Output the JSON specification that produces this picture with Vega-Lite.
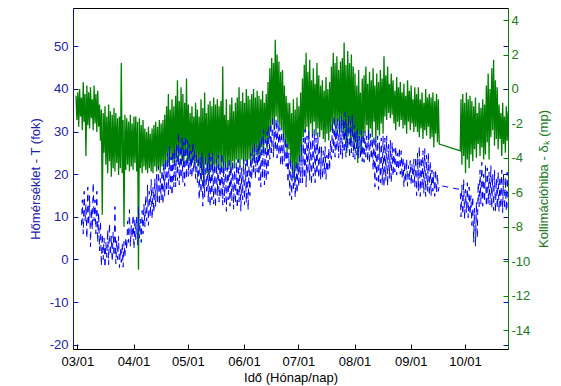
{
"$schema":"https://vega.github.io/schema/vega-lite/v6.json",
"width":435,"height":341,"autosize":"none",
"padding":{"left":73,"top":8,"right":53,"bottom":37},
"background":"white",
"config":{"view":{"stroke":"black","strokeWidth":1},"font":"Liberation Sans",
"axis":{"labelFont":"Liberation Sans","titleFont":"Liberation Sans","labelFontSize":13,"titleFontSize":13,"titleFontWeight":"normal","grid":false,"tickSize":-5,"labelPadding":10,"labelFlush":false,"labelOverlap":false,"domainWidth":1,"tickWidth":1}},
"data":{"values":[
{"d":59.25,"k":-0.4,"T":null},{"d":59.75,"k":-1.8,"T":null},
{"d":60.25,"k":-0.2,"T":null},{"d":60.75,"k":-2.2,"T":null},
{"d":61.25,"k":0.0,"T":null},{"d":61.75,"k":-1.6,"T":null},
{"d":62.25,"k":-0.5,"T":8},{"d":62.75,"k":-2.4,"T":14},
{"d":63.25,"k":0.4,"T":6},{"d":63.75,"k":-1.9,"T":16},
{"d":64.25,"k":-0.3,"T":9},{"d":64.75,"k":-3.9,"T":13},
{"d":65.25,"k":0.2,"T":5},{"d":65.75,"k":-2.1,"T":17},
{"d":66.25,"k":-0.2,"T":8},{"d":66.75,"k":-2.3,"T":15},
{"d":67.25,"k":0.1,"T":3},{"d":67.75,"k":-1.7,"T":12},
{"d":68.25,"k":-0.6,"T":7},{"d":68.75,"k":-2.4,"T":18},
{"d":69.25,"k":0.2,"T":9},{"d":69.75,"k":-2.0,"T":14},
{"d":70.25,"k":-0.3,"T":6},{"d":70.75,"k":-2.5,"T":16},
{"d":71.25,"k":-0.1,"T":4},{"d":71.75,"k":-2.2,"T":11},
{"d":72.25,"k":-0.9,"T":2},{"d":72.75,"k":-3.0,"T":9},
{"d":73.25,"k":-1.2,"T":-1.5},{"d":73.75,"k":-7.3,"T":6},
{"d":74.25,"k":-1.4,"T":0},{"d":74.75,"k":-3.7,"T":5},
{"d":75.25,"k":-1.0,"T":-1.9},{"d":75.75,"k":-4.4,"T":4},
{"d":76.25,"k":-1.6,"T":0.5},{"d":76.75,"k":-4.9,"T":7},
{"d":77.25,"k":-0.9,"T":-1.2},{"d":77.75,"k":-4.2,"T":8.5},
{"d":78.25,"k":-1.3,"T":1},{"d":78.75,"k":-5.1,"T":5.5},
{"d":79.25,"k":-1.5,"T":-0.5},{"d":79.75,"k":-4.6,"T":6.5},
{"d":80.25,"k":-1.1,"T":0.8},{"d":80.75,"k":-4.8,"T":12.4},
{"d":81.25,"k":-1.4,"T":-1},{"d":81.75,"k":-4.3,"T":4.5},
{"d":82.25,"k":-1.7,"T":0},{"d":82.75,"k":-5.0,"T":5.4},
{"d":83.25,"k":-1.6,"T":-1.9},{"d":83.75,"k":-4.6,"T":2.5},
{"d":84.25,"k":1.5,"T":-0.7},{"d":84.75,"k":-4.9,"T":3.8},
{"d":85.25,"k":-1.8,"T":-1.8},{"d":85.75,"k":-8.0,"T":4.2},
{"d":86.25,"k":-1.5,"T":0.5},{"d":86.75,"k":-4.7,"T":5},
{"d":87.25,"k":-1.7,"T":2.3},{"d":87.75,"k":-4.4,"T":9},
{"d":88.25,"k":-1.9,"T":4},{"d":88.75,"k":-4.8,"T":11.7},
{"d":89.25,"k":-1.5,"T":3},{"d":89.75,"k":-4.5,"T":8},
{"d":90.25,"k":-2.0,"T":5},{"d":90.75,"k":-4.7,"T":10.5},
{"d":91.25,"k":-1.6,"T":2.5},{"d":91.75,"k":-4.3,"T":9.5},
{"d":92.25,"k":-1.6,"T":4.7},{"d":92.75,"k":-4.8,"T":10},
{"d":93.25,"k":-1.9,"T":3.5},{"d":93.75,"k":-10.5,"T":12.4},
{"d":94.25,"k":-1.7,"T":5},{"d":94.75,"k":-4.6,"T":9.5},
{"d":95.25,"k":-2.1,"T":4},{"d":95.75,"k":-4.9,"T":11.5},
{"d":96.25,"k":-1.8,"T":6},{"d":96.75,"k":-4.5,"T":13},
{"d":97.25,"k":-2.3,"T":7.7},{"d":97.75,"k":-4.7,"T":15},
{"d":98.25,"k":-2.5,"T":9},{"d":98.75,"k":-4.9,"T":17.5},
{"d":99.25,"k":-2.2,"T":8},{"d":99.75,"k":-4.6,"T":16},
{"d":100.25,"k":-2.6,"T":10},{"d":100.75,"k":-4.8,"T":18.8},
{"d":101.25,"k":-2.3,"T":9.5},{"d":101.75,"k":-4.9,"T":17},
{"d":102.25,"k":-2.1,"T":11},{"d":102.75,"k":-4.5,"T":19},
{"d":103.25,"k":-1.9,"T":12.4},{"d":103.75,"k":-4.8,"T":20},
{"d":104.25,"k":-2.2,"T":13.5},{"d":104.75,"k":-4.6,"T":21.8},
{"d":105.25,"k":-1.8,"T":12.8},{"d":105.75,"k":-4.9,"T":19},
{"d":106.25,"k":-2.0,"T":14},{"d":106.75,"k":-4.5,"T":21},
{"d":107.25,"k":-1.8,"T":13},{"d":107.75,"k":-4.7,"T":22.5},
{"d":108.25,"k":-1.5,"T":14.8},{"d":108.75,"k":-4.4,"T":23.5},
{"d":109.25,"k":-1.0,"T":16},{"d":109.75,"k":-4.2,"T":25},
{"d":110.25,"k":-0.3,"T":15.2},{"d":110.75,"k":-4.5,"T":26.5},
{"d":111.25,"k":-1.2,"T":16.5},{"d":111.75,"k":-4.1,"T":24},
{"d":112.25,"k":-0.6,"T":15},{"d":112.75,"k":-4.3,"T":25.5},
{"d":113.25,"k":-1.0,"T":17},{"d":113.75,"k":-4.4,"T":26},
{"d":114.25,"k":-0.4,"T":17},{"d":114.75,"k":-4.0,"T":27},
{"d":115.25,"k":0.5,"T":18.5},{"d":115.75,"k":-4.4,"T":29.8},
{"d":116.25,"k":-0.7,"T":17.5},{"d":116.75,"k":-3.8,"T":26.5},
{"d":117.25,"k":0.1,"T":19},{"d":117.75,"k":-4.2,"T":28.5},
{"d":118.25,"k":-0.3,"T":18},{"d":118.75,"k":-4.5,"T":27.5},
{"d":119.25,"k":-0.8,"T":17.2},{"d":119.75,"k":-3.9,"T":29},
{"d":120.25,"k":0.6,"T":19},{"d":120.75,"k":-4.3,"T":28},
{"d":121.25,"k":-0.9,"T":19.5},{"d":121.75,"k":-4.2,"T":27},
{"d":122.25,"k":-1.4,"T":20},{"d":122.75,"k":-4.5,"T":25.5},
{"d":123.25,"k":-1.0,"T":19.2},{"d":123.75,"k":-4.1,"T":27.5},
{"d":124.25,"k":-1.6,"T":20.5},{"d":124.75,"k":-4.4,"T":26},
{"d":125.25,"k":-0.8,"T":19},{"d":125.75,"k":-4.3,"T":25},
{"d":126.25,"k":-1.2,"T":18},{"d":126.75,"k":-4.5,"T":24},
{"d":127.25,"k":-1.6,"T":14},{"d":127.75,"k":-4.6,"T":24},
{"d":128.25,"k":-0.6,"T":15.5},{"d":128.75,"k":-5.0,"T":25},
{"d":129.25,"k":-1.1,"T":12.5},{"d":129.75,"k":-5.7,"T":22},
{"d":130.25,"k":-0.2,"T":14.5},{"d":130.75,"k":-4.4,"T":24.5},
{"d":131.25,"k":-1.4,"T":16},{"d":131.75,"k":-4.9,"T":23},
{"d":132.25,"k":-0.9,"T":13.5},{"d":132.75,"k":-5.3,"T":25},
{"d":133.25,"k":-0.7,"T":12.4},{"d":133.75,"k":-4.5,"T":24},
{"d":134.25,"k":-1.0,"T":14},{"d":134.75,"k":-4.8,"T":25},
{"d":135.25,"k":-0.5,"T":13},{"d":135.75,"k":-4.4,"T":22.5},
{"d":136.25,"k":-0.9,"T":12.2},{"d":136.75,"k":-4.9,"T":23.5},
{"d":137.25,"k":-0.6,"T":15},{"d":137.75,"k":-4.3,"T":24.5},
{"d":138.25,"k":-1.0,"T":13.5},{"d":138.75,"k":-4.7,"T":22},
{"d":139.25,"k":-0.7,"T":14.5},{"d":139.75,"k":-4.5,"T":25},
{"d":140.25,"k":1.3,"T":12.8},{"d":140.75,"k":-4.8,"T":23},
{"d":141.25,"k":-1.5,"T":13.4},{"d":141.75,"k":-4.3,"T":23},
{"d":142.25,"k":-0.6,"T":11.3},{"d":142.75,"k":-4.7,"T":21.5},
{"d":143.25,"k":-1.8,"T":14},{"d":143.75,"k":-4.4,"T":23.5},
{"d":144.25,"k":-0.9,"T":12.5},{"d":144.75,"k":-4.9,"T":22},
{"d":145.25,"k":-0.5,"T":13.8},{"d":145.75,"k":-4.2,"T":23.2},
{"d":146.25,"k":-1.3,"T":11.8},{"d":146.75,"k":-4.6,"T":21},
{"d":147.25,"k":-0.8,"T":13},{"d":147.75,"k":-4.1,"T":22.8},
{"d":148.25,"k":-0.5,"T":12},{"d":148.75,"k":-4.3,"T":23.5},
{"d":149.25,"k":0.1,"T":13.5},{"d":149.75,"k":-4.5,"T":22},
{"d":150.25,"k":-0.7,"T":11.3},{"d":150.75,"k":-4.1,"T":21.5},
{"d":151.25,"k":-0.2,"T":14},{"d":151.75,"k":-4.4,"T":23.5},
{"d":152.25,"k":-0.8,"T":12.8},{"d":152.75,"k":-4.2,"T":22.5},
{"d":153.25,"k":0.0,"T":13.2},{"d":153.75,"k":-4.5,"T":24},
{"d":154.25,"k":-0.4,"T":11.6},{"d":154.75,"k":-4.1,"T":22},
{"d":155.25,"k":-0.6,"T":15},{"d":155.75,"k":-4.3,"T":25},
{"d":156.25,"k":-0.3,"T":18.8},{"d":156.75,"k":-3.9,"T":26},
{"d":157.25,"k":0.0,"T":20},{"d":157.75,"k":-4.3,"T":27.5},
{"d":158.25,"k":-0.5,"T":19},{"d":158.75,"k":-3.6,"T":25.5},
{"d":159.25,"k":-0.1,"T":20.5},{"d":159.75,"k":-4.1,"T":27},
{"d":160.25,"k":-0.4,"T":18.5},{"d":160.75,"k":-3.8,"T":28},
{"d":161.25,"k":-0.6,"T":17},{"d":161.75,"k":-3.4,"T":29},
{"d":162.25,"k":-0.1,"T":19},{"d":162.75,"k":-3.7,"T":30.5},
{"d":163.25,"k":-0.8,"T":17.5},{"d":163.75,"k":-3.0,"T":28},
{"d":164.25,"k":-0.3,"T":18.5},{"d":164.75,"k":-3.5,"T":30},
{"d":165.25,"k":0.4,"T":20},{"d":165.75,"k":-2.9,"T":31},
{"d":166.25,"k":1.2,"T":23.5},{"d":166.75,"k":-2.3,"T":32},
{"d":167.25,"k":1.8,"T":25},{"d":167.75,"k":-2.0,"T":33.6},
{"d":168.25,"k":1.5,"T":24},{"d":168.75,"k":-2.4,"T":31.5},
{"d":169.25,"k":2.85,"T":25.5},{"d":169.75,"k":-1.6,"T":33},
{"d":170.25,"k":2.0,"T":23.8},{"d":170.75,"k":-1.9,"T":32.5},
{"d":171.25,"k":1.6,"T":24.5},{"d":171.75,"k":-2.2,"T":31},
{"d":172.25,"k":1.0,"T":22},{"d":172.75,"k":-2.4,"T":30},
{"d":173.25,"k":1.1,"T":22},{"d":173.75,"k":-2.7,"T":29.8},
{"d":174.25,"k":0.2,"T":23},{"d":174.75,"k":-3.2,"T":28.5},
{"d":175.25,"k":-0.4,"T":21.8},{"d":175.75,"k":-3.7,"T":27},
{"d":176.25,"k":-0.8,"T":18},{"d":176.75,"k":-3.5,"T":25},
{"d":177.25,"k":-0.8,"T":15},{"d":177.75,"k":-4.3,"T":23.5},
{"d":178.25,"k":-1.4,"T":14},{"d":178.75,"k":-4.9,"T":22},
{"d":179.25,"k":-0.6,"T":16},{"d":179.75,"k":-5.3,"T":21.5},
{"d":180.25,"k":-1.2,"T":14.5},{"d":180.75,"k":-4.6,"T":23},
{"d":181.25,"k":-0.5,"T":15.5},{"d":181.75,"k":-4.8,"T":22.5},
{"d":182.25,"k":-1.0,"T":17},{"d":182.75,"k":-4.2,"T":24.5},
{"d":183.25,"k":-0.2,"T":18},{"d":183.75,"k":-3.9,"T":27},
{"d":184.25,"k":0.6,"T":18},{"d":184.75,"k":-2.8,"T":28.5},
{"d":185.25,"k":1.4,"T":19},{"d":185.75,"k":-2.5,"T":30.5},
{"d":186.25,"k":2.1,"T":17},{"d":186.75,"k":-2.2,"T":29},
{"d":187.25,"k":1.0,"T":20},{"d":187.75,"k":-2.9,"T":30},
{"d":188.25,"k":1.7,"T":18.5},{"d":188.75,"k":-2.0,"T":28},
{"d":189.25,"k":0.5,"T":17.5},{"d":189.75,"k":-2.6,"T":29.5},
{"d":190.25,"k":1.2,"T":19.5},{"d":190.75,"k":-1.9,"T":30.5},
{"d":191.25,"k":0.3,"T":18},{"d":191.75,"k":-2.7,"T":28.5},
{"d":192.25,"k":1.5,"T":20},{"d":192.75,"k":-2.3,"T":29.8},
{"d":193.25,"k":0.8,"T":19},{"d":193.75,"k":-2.8,"T":27},
{"d":194.25,"k":0.2,"T":18.8},{"d":194.75,"k":-2.4,"T":26.5},
{"d":195.25,"k":0.5,"T":19},{"d":195.75,"k":-2.9,"T":25.5},
{"d":196.25,"k":-0.1,"T":20},{"d":196.75,"k":-3.1,"T":26.5},
{"d":197.25,"k":0.7,"T":18.8},{"d":197.75,"k":-2.6,"T":24.5},
{"d":198.25,"k":0.0,"T":20.5},{"d":198.75,"k":-3.0,"T":26},
{"d":199.25,"k":0.4,"T":21},{"d":199.75,"k":-2.5,"T":28},
{"d":200.25,"k":1.3,"T":23.5},{"d":200.75,"k":-2.4,"T":32},
{"d":201.25,"k":2.1,"T":25},{"d":201.75,"k":-2.0,"T":33.6},
{"d":202.25,"k":1.5,"T":24},{"d":202.75,"k":-2.7,"T":31.5},
{"d":203.25,"k":1.9,"T":25.5},{"d":203.75,"k":-1.9,"T":33},
{"d":204.25,"k":1.1,"T":23.8},{"d":204.75,"k":-2.5,"T":32.5},
{"d":205.25,"k":1.6,"T":24.5},{"d":205.75,"k":-2.2,"T":33.5},
{"d":206.25,"k":1.8,"T":23.5},{"d":206.75,"k":-2.6,"T":33},
{"d":207.25,"k":2.7,"T":25},{"d":207.75,"k":-3.0,"T":34.5},
{"d":208.25,"k":1.4,"T":24},{"d":208.75,"k":-3.7,"T":32},
{"d":209.25,"k":2.2,"T":26},{"d":209.75,"k":-2.5,"T":33.8},
{"d":210.25,"k":1.5,"T":23.8},{"d":210.75,"k":-3.3,"T":32.5},
{"d":211.25,"k":2.0,"T":25},{"d":211.75,"k":-2.8,"T":34},
{"d":212.25,"k":1.3,"T":24},{"d":212.75,"k":-3.5,"T":31.5},
{"d":213.25,"k":0.9,"T":23.5},{"d":213.75,"k":-3.1,"T":30},
{"d":214.25,"k":0.2,"T":24.5},{"d":214.75,"k":-4.3,"T":30.5},
{"d":215.25,"k":1.1,"T":23.8},{"d":215.75,"k":-2.7,"T":29},
{"d":216.25,"k":-0.2,"T":24},{"d":216.75,"k":-3.8,"T":30.2},
{"d":217.25,"k":0.6,"T":23},{"d":217.75,"k":-2.9,"T":29.5},
{"d":218.25,"k":0.8,"T":22.8},{"d":218.75,"k":-2.5,"T":30},
{"d":219.25,"k":1.3,"T":24},{"d":219.75,"k":-2.1,"T":29},
{"d":220.25,"k":0.3,"T":23},{"d":220.75,"k":-3.0,"T":30.5},
{"d":221.25,"k":1.0,"T":22.5},{"d":221.75,"k":-2.3,"T":29.5},
{"d":222.25,"k":0.5,"T":23.5},{"d":222.75,"k":-2.8,"T":28.5},
{"d":223.25,"k":1.2,"T":21},{"d":223.75,"k":-1.9,"T":29},
{"d":224.25,"k":0.2,"T":17},{"d":224.75,"k":-3.1,"T":28},
{"d":225.25,"k":0.9,"T":18.5},{"d":225.75,"k":-2.4,"T":29},
{"d":226.25,"k":0.4,"T":16.4},{"d":226.75,"k":-2.7,"T":27.5},
{"d":227.25,"k":1.1,"T":18},{"d":227.75,"k":-2.0,"T":28.5},
{"d":228.25,"k":0.6,"T":17.5},{"d":228.75,"k":-2.6,"T":29},
{"d":229.25,"k":1.9,"T":17},{"d":229.75,"k":-1.6,"T":28.5},
{"d":230.25,"k":0.8,"T":18.5},{"d":230.75,"k":-1.8,"T":29},
{"d":231.25,"k":1.3,"T":17.2},{"d":231.75,"k":-1.4,"T":27},
{"d":232.25,"k":0.3,"T":19},{"d":232.75,"k":-1.7,"T":28},
{"d":233.25,"k":0.9,"T":18},{"d":233.75,"k":-1.5,"T":27.5},
{"d":234.25,"k":0.5,"T":19.5},{"d":234.75,"k":-2.0,"T":26},
{"d":235.25,"k":-0.1,"T":20.5},{"d":235.75,"k":-2.4,"T":26.5},
{"d":236.25,"k":0.7,"T":19.8},{"d":236.75,"k":-1.9,"T":25},
{"d":237.25,"k":0.1,"T":21},{"d":237.75,"k":-2.2,"T":26.2},
{"d":238.25,"k":0.4,"T":20},{"d":238.75,"k":-1.8,"T":25.5},
{"d":239.25,"k":-0.2,"T":19},{"d":239.75,"k":-2.3,"T":24},
{"d":240.25,"k":0.3,"T":17},{"d":240.75,"k":-2.1,"T":23},
{"d":241.25,"k":-0.4,"T":18},{"d":241.75,"k":-2.6,"T":23.5},
{"d":242.25,"k":0.5,"T":17.2},{"d":242.75,"k":-1.9,"T":22},
{"d":243.25,"k":-0.1,"T":18.5},{"d":243.75,"k":-2.4,"T":23.2},
{"d":244.25,"k":0.2,"T":17.5},{"d":244.75,"k":-2.0,"T":22.5},
{"d":245.25,"k":-0.6,"T":18},{"d":245.75,"k":-2.5,"T":23.5},
{"d":246.25,"k":0.1,"T":17},{"d":246.75,"k":-2.2,"T":24},
{"d":247.25,"k":-0.3,"T":15},{"d":247.75,"k":-2.5,"T":25},
{"d":248.25,"k":0.1,"T":16},{"d":248.75,"k":-2.8,"T":26.5},
{"d":249.25,"k":-0.6,"T":14.8},{"d":249.75,"k":-2.3,"T":24},
{"d":250.25,"k":-0.2,"T":16.5},{"d":250.75,"k":-2.9,"T":25.5},
{"d":251.25,"k":-0.8,"T":15.5},{"d":251.75,"k":-2.4,"T":26},
{"d":252.25,"k":0.0,"T":14.8},{"d":252.75,"k":-2.7,"T":24.5},
{"d":253.25,"k":-0.5,"T":16},{"d":253.75,"k":-2.2,"T":25},
{"d":254.25,"k":-0.3,"T":15},{"d":254.75,"k":-2.9,"T":23},
{"d":255.25,"k":-0.5,"T":15},{"d":255.75,"k":-2.8,"T":21},
{"d":256.25,"k":-0.2,"T":16},{"d":256.75,"k":-3.4,"T":20.5},
{"d":257.25,"k":-0.7,"T":14.8},{"d":257.75,"k":-2.6,"T":21.1},
{"d":258.25,"k":-0.3,"T":15.5},{"d":258.75,"k":-3.1,"T":20},
{"d":259.25,"k":-0.6,"T":16},{"d":259.75,"k":-3.2,"T":17.4},
{"d":271.35,"k":-3.6,"T":16.4},{"d":271.75,"k":-0.6,"T":10},
{"d":272.25,"k":-4.4,"T":17.5},{"d":272.75,"k":-0.3,"T":10.5},
{"d":273.25,"k":-3.9,"T":18.8},{"d":273.75,"k":-0.8,"T":9.4},
{"d":274.25,"k":-4.9,"T":16.5},{"d":274.75,"k":-0.2,"T":11},
{"d":275.25,"k":-4.1,"T":18},{"d":275.75,"k":-0.6,"T":9.8},
{"d":276.25,"k":-4.6,"T":17},{"d":276.75,"k":-0.4,"T":10.5},
{"d":277.25,"k":-3.8,"T":15},{"d":277.75,"k":-0.7,"T":8},
{"d":278.25,"k":-4.2,"T":14.8},{"d":278.75,"k":-1.0,"T":4},
{"d":279.25,"k":-3.5,"T":12},{"d":279.75,"k":-0.5,"T":3.1},
{"d":280.25,"k":-4.0,"T":13.5},{"d":280.75,"k":-1.4,"T":5},
{"d":281.25,"k":-3.2,"T":18},{"d":281.75,"k":-0.8,"T":12.4},
{"d":282.25,"k":-3.9,"T":21},{"d":282.75,"k":-1.1,"T":13},
{"d":283.25,"k":-3.4,"T":22.8},{"d":283.75,"k":-0.6,"T":12.5},
{"d":284.25,"k":-4.1,"T":20},{"d":284.75,"k":-0.9,"T":13.5},
{"d":285.25,"k":-3.8,"T":22},{"d":285.75,"k":0.2,"T":12.4},
{"d":286.25,"k":-3.1,"T":21.5},{"d":286.75,"k":0.9,"T":13},
{"d":287.25,"k":-4.1,"T":20.5},{"d":287.75,"k":0.0,"T":12.8},
{"d":288.25,"k":-2.8,"T":22},{"d":288.75,"k":1.2,"T":12},
{"d":289.25,"k":-2.4,"T":20},{"d":289.75,"k":1.7,"T":11.5},
{"d":290.25,"k":-3.3,"T":21},{"d":290.75,"k":0.5,"T":11},
{"d":291.25,"k":-2.9,"T":19},{"d":291.75,"k":0.1,"T":12},
{"d":292.25,"k":-3.5,"T":20.5},{"d":292.75,"k":-0.9,"T":11.2},
{"d":293.25,"k":-2.9,"T":19.5},{"d":293.75,"k":-1.4,"T":12},
{"d":294.25,"k":-3.9,"T":21},{"d":294.75,"k":-0.8,"T":11},
{"d":295.25,"k":-3.2,"T":20},{"d":295.75,"k":-1.6,"T":11.8},
{"d":296.25,"k":-3.7,"T":19.2},{"d":296.75,"k":-1.0,"T":11.3},
{"d":297.25,"k":-3.0,"T":20.5},{"d":297.75,"k":-1.3,"T":12}
]},
"encoding":{"x":{"field":"d","type":"quantitative","scale":{"domain":[57.6,297.7],"nice":false,"zero":false},
"axis":{"title":"Idő (Hónap/nap)","values":[60,91,121,152,182,213,244,274],
"labelExpr":"['03/01','04/01','05/01','06/01','07/01','08/01','09/01','10/01'][indexof([60,91,121,152,182,213,244,274], datum.value)]",
"domainColor":"black","tickColor":"black","labelColor":"black","titleColor":"black","titlePadding":3,"labelPadding":11}}},
"layer":[
{"mark":{"type":"line","color":"#008000","strokeWidth":1.3,"clip":true},
"encoding":{"y":{"field":"k","type":"quantitative","scale":{"domain":[-15.1,4.7],"nice":false,"zero":false},
"axis":{"orient":"right","title":"Kollimációhiba - δₖ (mp)","titleAngle":270,"titleX":35,"titleY":170.5,"titleAlign":"center","titleBaseline":"middle","values":[-14,-12,-10,-8,-6,-4,-2,0,2,4],"labelExpr":"datum.value + ''",
"domainColor":"#008000","tickColor":"#008000","labelColor":"#207a20","titleColor":"#207a20","labelPadding":8}}}},
{"mark":{"type":"line","color":"#0000ff","strokeWidth":1,"strokeDash":[6,5],"clip":true},
"encoding":{"y":{"field":"T","type":"quantitative","scale":{"domain":[-21,59],"nice":false,"zero":false},
"axis":{"orient":"left","title":"Hőmérséklet - T (fok)","titleAngle":270,"titleX":-38,"titleY":170.5,"titleAlign":"center","titleBaseline":"middle","values":[-20,-10,0,10,20,30,40,50],"labelExpr":"datum.value + ''",
"domainColor":"#1010b0","tickColor":"#1010b0","labelColor":"#2020b0","titleColor":"#2020b0","labelPadding":10}}}},
{"mark":{"type":"line","opacity":0,"clip":true},
"encoding":{"y":{"field":"T","type":"quantitative","scale":{"domain":[-21,59],"nice":false,"zero":false},
"axis":{"orient":"right","title":null,"labels":false,"domain":false,"values":[-20,-10,0,10,20,30,40,50],"tickColor":"#1010b0"}}}}
],
"resolve":{"scale":{"y":"independent"},"axis":{"y":"independent"}}
}
